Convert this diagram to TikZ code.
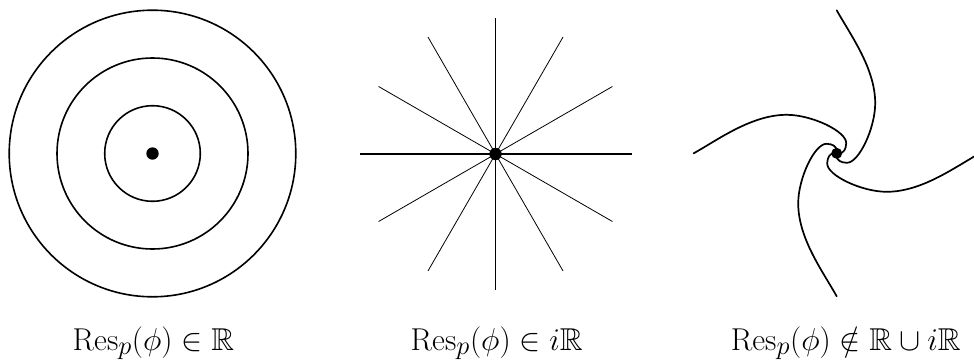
\documentclass[tikz,border=0pt]{standalone}
\usepackage{graphicx}
\usepackage{amsmath,amssymb}
\begin{document}
\begin{tikzpicture}[x=1pt,y=1pt,
  pole/.style={circle,fill=black,inner sep=0pt,minimum size=12.4pt},
  orbit/.style={line width=1.6pt},
  thickray/.style={line width=1.6pt},
  thinray/.style={line width=0.8pt},
  arm/.style={line width=1.7pt,line cap=round},
  lab/.style={anchor=base,inner sep=0pt,font=\Huge}]
\useasboundingbox (0,0) rectangle (974,360);
\clip (0,0) rectangle (974,360);
% left: concentric circles
\node[pole] (p1) at (152.5,206.5) {};
\foreach \r in {47.8,95.5,143.3}
  \draw[orbit] (p1.center) circle[radius=\r];
% middle: star
\node[pole] (p2) at (495.5,206) {};
\foreach \a in {0,90,180,270}
  \draw[thickray] (p2.center) -- ++(\a:136);
\foreach \a in {30,60,120,150,210,240,300,330}
  \draw[thinray] (p2.center) -- ++(\a:135);
% right: spiral
\node[pole,minimum size=11pt] (p3) at (836.7,206.7) {};
\foreach \a in {0,90,180,270}
  \draw[arm,shift={(p3.center)},rotate=\a]
    (0,143) .. controls (14,118) and (38.5,85) .. (38.5,50)
            .. controls (38.5,25) and (22,-10) .. (10,-9.5)
            .. controls (4,-9.3) and (0.5,-7) .. (0,-3);
% labels
\node[lab] (l1) at (153.4,10) {\scalebox{1.27}{$\mathrm{Res}_p(\phi)\in\mathbb{R}$}};
\node[lab] (l2) at (496.7,10) {\scalebox{1.27}{$\mathrm{Res}_p(\phi)\in i\mathbb{R}$}};
\node[lab] (l3) at (845.8,10) {\scalebox{1.27}{$\mathrm{Res}_p(\phi)\notin\mathbb{R}\cup i\mathbb{R}$}};
\end{tikzpicture}
\end{document}
